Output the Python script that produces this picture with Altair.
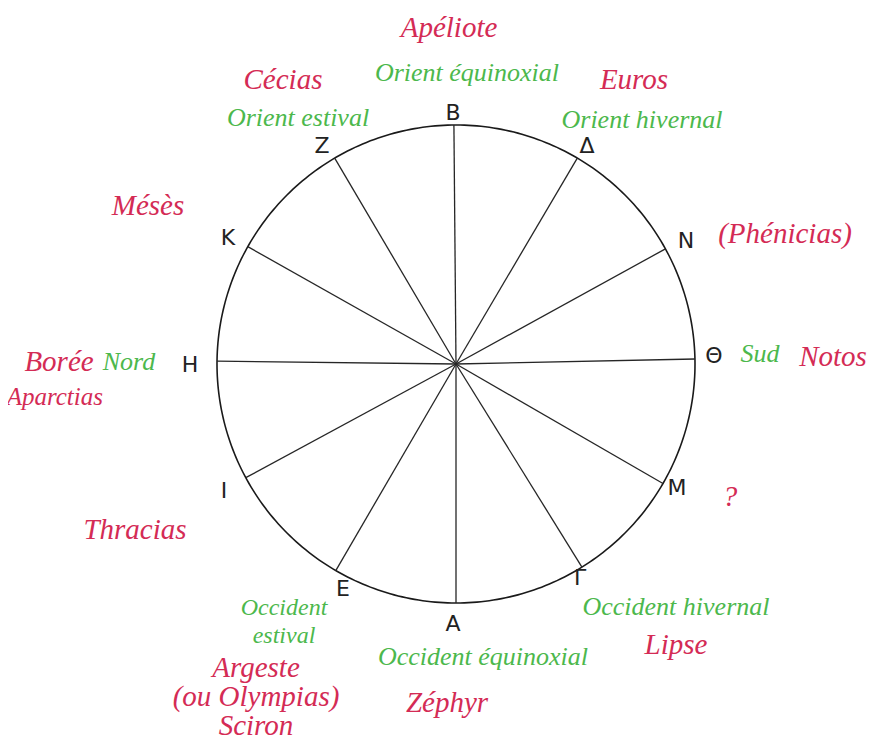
import altair as alt
import pandas as pd
import numpy as np

# Spokes of the wind rose (letter at each spoke end, angle in degrees, 0 = right, counter-clockwise)
letters = ["B", "Δ", "N", "Θ", "M", "Γ", "A", "E", "I", "H", "K", "Z"]
spoke_angles = [90.5, 59.5, 28.8, 1.2, -30.0, -58.2, -90.0, -120.2, -151.6, 179.3, 150.6, 120.5]
letter_x = [-3, 131, 230, 258, 221, 124, -3, -113, -232, -266, -228, -134]
letter_y = [251, 218, 123, 8, -124, -214, -260, -225, -127, -1, 126, 218]
circle_radius = 239

# Greek wind names (red)
red_text = ["Apéliote", "Cécias", "Euros", "Mésès", "(Phénicias)", "Borée", "Notos",
            "?", "Thracias", "Argeste\n(ou Olympias)\nSciron", "Zéphyr", "Lipse"]
red_x = [-7, -173, 178, -308, 329, -397, 377, 274, -321, -200, -9, 220]
red_y = [336, 284, 284, 158, 130, 2, 7, -133, -166, -304, -339, -281]

# word on the left edge (right aligned)
cut_text = ["Aparctias"]
cut_x = [-353]
cut_y = [-33]

# Directions (green)
green_text = ["Orient équinoxial", "Orient estival", "Orient hivernal", "Nord", "Sud",
              "Occident équinoxial", "Occident hivernal"]
green_x = [11, -158, 186, -327, 304, 27, 220]
green_y = [291, 246, 244, 2, 10, -293, -243]

# two-line green label (Occident estival)
green2_text = ["Occident\nestival"]
green2_x = [-172]
green2_y = [-244]

RED = "#d42b55"
GREEN = "#4cb84c"

xs = alt.Scale(domain=[-448, 413], nice=False, zero=False)
ys = alt.Scale(domain=[-376, 356], nice=False, zero=False)

# circle outline
t = np.arange(0, 361, 1)
circle_df = pd.DataFrame({
    "x": circle_radius * np.cos(np.radians(t)),
    "y": circle_radius * np.sin(np.radians(t)),
    "o": t,
})

spoke_df = pd.DataFrame({
    "letter": letters,
    "x0": 0.0,
    "y0": 0.0,
    "x1": circle_radius * np.cos(np.radians(spoke_angles)),
    "y1": circle_radius * np.sin(np.radians(spoke_angles)),
})

letters_df = pd.DataFrame({"t": letters, "x": letter_x, "y": letter_y})
red_df = pd.DataFrame({"t": red_text, "x": red_x, "y": red_y})
cut_df = pd.DataFrame({"t": cut_text, "x": cut_x, "y": cut_y})
green_df = pd.DataFrame({"t": green_text, "x": green_x, "y": green_y})
green2_df = pd.DataFrame({"t": green2_text, "x": green2_x, "y": green2_y})

X = lambda f: alt.X(f, type="quantitative", scale=xs, axis=None)
Y = lambda f: alt.Y(f, type="quantitative", scale=ys, axis=None)

circle = alt.Chart(circle_df).mark_line(color="#1a1a1a", strokeWidth=1.6).encode(
    x=X("x"), y=Y("y"), order="o:Q")

spokes = alt.Chart(spoke_df).mark_rule(color="#262626", strokeWidth=1.3).encode(
    x=X("x0"), y=Y("y0"), x2="x1:Q", y2="y1:Q")

letter_marks = alt.Chart(letters_df).mark_text(
    font="DejaVu Sans", fontSize=22, color="#222222", align="center", baseline="middle"
).encode(x=X("x"), y=Y("y"), text="t:N")

red_marks = alt.Chart(red_df).mark_text(
    font="Liberation Serif", fontStyle="italic", fontSize=29, color=RED,
    align="center", baseline="middle", lineBreak="\n", lineHeight=29
).encode(x=X("x"), y=Y("y"), text="t:N")

cut_marks = alt.Chart(cut_df).mark_text(
    font="Liberation Serif", fontStyle="italic", fontSize=25, color=RED,
    align="right", baseline="middle"
).encode(x=X("x"), y=Y("y"), text="t:N")

green_marks = alt.Chart(green_df).mark_text(
    font="Liberation Serif", fontStyle="italic", fontSize=26, color=GREEN,
    align="center", baseline="middle"
).encode(x=X("x"), y=Y("y"), text="t:N")

green2_marks = alt.Chart(green2_df).mark_text(
    font="Liberation Serif", fontStyle="italic", fontSize=24, color=GREEN,
    align="center", baseline="middle", lineBreak="\n", lineHeight=28
).encode(x=X("x"), y=Y("y"), text="t:N")

chart = alt.layer(circle, spokes, letter_marks, red_marks, cut_marks, green_marks,
                  green2_marks).properties(
    width=861, height=732, padding=0, autosize=alt.AutoSizeParams(type="none"),
    background="white"
).configure_view(stroke=None)

chart.save("out.html", embed_options={"renderer": "svg", "actions": False})
